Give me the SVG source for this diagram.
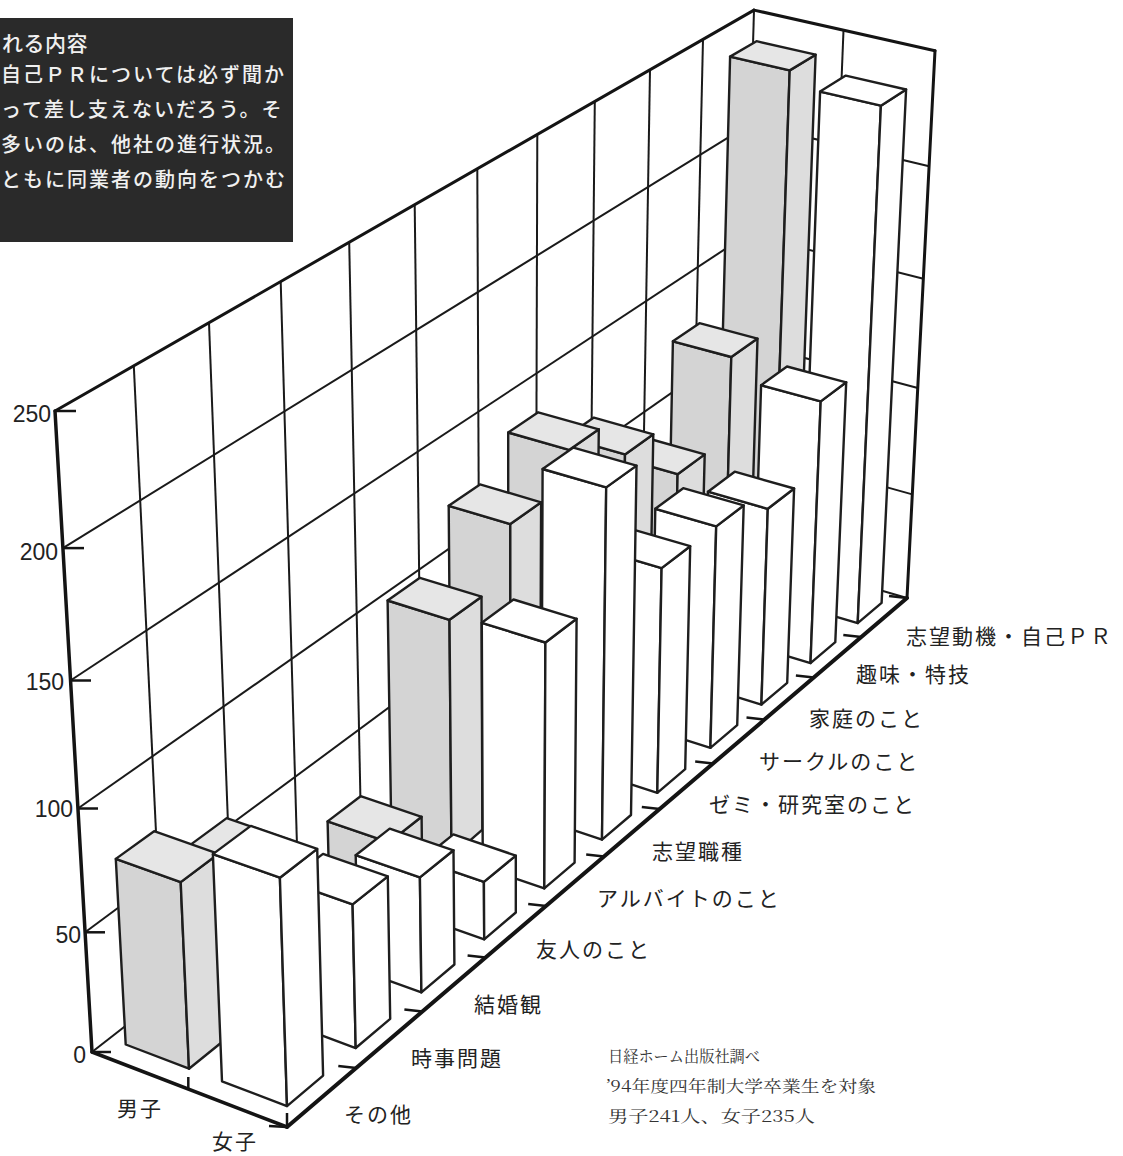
<svg xmlns="http://www.w3.org/2000/svg" width="1123" height="1156" viewBox="0 0 1123 1156">
<defs>
<style>
.bg{fill:#fff}
.plane{fill:#fff;stroke:none}
.edge{stroke:#141414;stroke-width:3;fill:none;stroke-linecap:round}
.axis{stroke:#141414;stroke-width:4;fill:none;stroke-linecap:round}
.grid{stroke:#1a1a1a;stroke-width:2;fill:none}
.tick{stroke:#141414;stroke-width:2.5;fill:none}
.bar polygon{stroke:#1e1e1e;stroke-width:2.4;stroke-linejoin:round}
.m .l{fill:#d4d4d4}.m .r{fill:#dddddd}.m .t{fill:#e6e6e6}
.f .l,.f .r,.f .t{fill:#fff}
.num{font-family:"Liberation Sans",Arial,sans-serif;font-size:23px;fill:#222;text-anchor:end}
.cat{font-family:"Noto Sans CJK JP","Noto Sans CJK SC",sans-serif;font-size:21px;fill:#222;letter-spacing:2px}
.box{font-family:"Noto Sans CJK JP","Noto Sans CJK SC",sans-serif;font-size:20px;font-weight:500;fill:#f0f0f0}
.src{font-family:"Noto Serif CJK JP","Noto Sans CJK JP",serif;font-size:16px;fill:#333}
</style>
</defs>
<rect class="bg" x="0" y="0" width="1123" height="1156"/>

<g id="textbox">
<rect x="-10" y="18" width="303" height="224" fill="#2a2a2a"/>
<text class="box" x="2" y="50.5" style="font-size:21px;letter-spacing:0.5px">れる内容</text>
<text class="box" x="1" y="82" style="letter-spacing:2px">自己ＰＲについては必ず聞か</text>
<text class="box" x="1" y="117" style="letter-spacing:2px">って差し支えないだろう。そ</text>
<text class="box" x="1" y="152" style="letter-spacing:2px">多いのは、他社の進行状況。</text>
<text class="box" x="1" y="187" style="letter-spacing:2px">ともに同業者の動向をつかむ</text>
</g>

<g id="walls">
<polygon class="plane" points="92,1052 55,411 754,10.1 738.3,548.8"/>
<polygon class="plane" points="738.3,548.8 754,10.1 935,50.7 907,598"/>
<polygon class="plane" points="92,1052 287,1127 907,598 738.3,548.8"/>
<g class="grid">
<line x1="163.8" y1="996.1" x2="133.8" y2="365.8"/>
<line x1="232.5" y1="942.6" x2="209.0" y2="322.7"/>
<line x1="298.3" y1="891.4" x2="280.7" y2="281.6"/>
<line x1="361.3" y1="842.3" x2="349.2" y2="242.3"/>
<line x1="421.8" y1="795.3" x2="414.7" y2="204.7"/>
<line x1="479.8" y1="750.1" x2="477.3" y2="168.8"/>
<line x1="535.6" y1="706.7" x2="537.3" y2="134.4"/>
<line x1="589.2" y1="664.9" x2="594.8" y2="101.4"/>
<line x1="640.8" y1="624.8" x2="650.0" y2="69.7"/>
<line x1="690.5" y1="586.1" x2="703.0" y2="39.3"/>
<line x1="85.1" y1="932.3" x2="741.3" y2="446.7"/>
<line x1="77.9" y1="808.5" x2="744.3" y2="341.9"/>
<line x1="70.5" y1="680.5" x2="747.5" y2="234.3"/>
<line x1="62.9" y1="548.1" x2="750.7" y2="123.7"/>
<line x1="741.3" y1="446.7" x2="912.3" y2="494.4"/>
<line x1="744.3" y1="341.9" x2="917.8" y2="388.0"/>
<line x1="747.5" y1="234.3" x2="923.4" y2="278.7"/>
<line x1="750.7" y1="123.7" x2="929.1" y2="166.3"/>
<line x1="821.8" y1="573.2" x2="843.5" y2="30.2"/>
<line x1="754" y1="10.1" x2="738.3" y2="548.8"/>
<line x1="92" y1="1052" x2="738.3" y2="548.8"/>
<line x1="738.3" y1="548.8" x2="907" y2="598"/>
</g>
<g class="edge">
<line x1="55" y1="411" x2="754" y2="10.1"/>
<line x1="754" y1="10.1" x2="935" y2="50.7"/>
<line x1="935" y1="50.7" x2="907" y2="598"/>
</g>
</g>

<g id="bars">
<g id="m10" class="bar m"><polygon class="l" points="716.3,581.2 771.9,597.7 789.7,70.4 730.1,56.6"/><polygon class="r" points="771.9,597.7 796.4,578.0 815.6,54.7 789.7,70.4"/><polygon class="t" points="730.1,56.6 789.7,70.4 815.6,54.7 756.5,41.2"/></g>
<g id="f10" class="bar f"><polygon class="l" points="800.9,606.3 857.7,623.1 880.9,105.7 820.1,91.6"/><polygon class="r" points="857.7,623.1 881.6,602.9 906.1,89.5 880.9,105.7"/><polygon class="t" points="820.1,91.6 880.9,105.7 906.1,89.5 845.8,75.6"/></g>
<g id="m9" class="bar m"><polygon class="l" points="667.3,619.7 723.6,636.8 731.3,357.0 672.9,341.3"/><polygon class="r" points="723.6,636.8 749.0,616.3 757.5,338.6 731.3,357.0"/><polygon class="t" points="672.9,341.3 731.3,357.0 757.5,338.6 699.5,323.2"/></g>
<g id="f9" class="bar f"><polygon class="l" points="752.9,645.7 810.5,663.1 820.7,401.4 761.1,385.2"/><polygon class="r" points="810.5,663.1 835.3,642.1 846.2,382.3 820.7,401.4"/><polygon class="t" points="761.1,385.2 820.7,401.4 846.2,382.3 787.0,366.5"/></g>
<g id="m8" class="bar m"><polygon class="l" points="616.3,659.7 673.4,677.4 677.6,474.2 619.1,457.5"/><polygon class="r" points="673.4,677.4 699.7,656.1 704.7,454.4 677.6,474.2"/><polygon class="t" points="619.1,457.5 677.6,474.2 704.7,454.4 646.5,438.0"/></g>
<g id="f8" class="bar f"><polygon class="l" points="703.1,686.6 761.4,704.6 767.8,508.8 708.0,491.7"/><polygon class="r" points="761.4,704.6 787.2,682.8 794.1,488.5 767.8,508.8"/><polygon class="t" points="708.0,491.7 767.8,508.8 794.1,488.5 734.7,471.7"/></g>
<g id="m7" class="bar m"><polygon class="l" points="563.4,701.2 621.2,719.5 625.0,454.4 565.1,437.4"/><polygon class="r" points="621.2,719.5 648.6,697.4 653.3,434.3 625.0,454.4"/><polygon class="t" points="565.1,437.4 625.0,454.4 653.3,434.3 593.9,417.6"/></g>
<g id="f7" class="bar f"><polygon class="l" points="651.3,729.1 710.4,747.8 716.2,526.4 655.3,508.8"/><polygon class="r" points="710.4,747.8 737.2,725.2 743.7,505.4 716.2,526.4"/><polygon class="t" points="655.3,508.8 716.2,526.4 743.7,505.4 683.2,488.2"/></g>
<g id="m6" class="bar m"><polygon class="l" points="508.3,744.4 566.9,763.4 569.1,449.9 508.2,432.5"/><polygon class="r" points="566.9,763.4 595.4,740.4 598.8,429.3 569.1,449.9"/><polygon class="t" points="508.2,432.5 569.1,449.9 598.8,429.3 538.2,412.3"/></g>
<g id="f6" class="bar f"><polygon class="l" points="597.4,773.3 657.3,792.8 661.6,568.1 599.9,549.8"/><polygon class="r" points="657.3,792.8 685.2,769.2 690.2,546.2 661.6,568.1"/><polygon class="t" points="599.9,549.8 661.6,568.1 690.2,546.2 629.0,528.3"/></g>
<g id="m5" class="bar m"><polygon class="l" points="451.0,789.3 510.4,809.1 510.3,524.1 448.7,505.8"/><polygon class="r" points="510.4,809.1 540.0,785.1 541.1,502.3 510.3,524.1"/><polygon class="t" points="448.7,505.8 510.3,524.1 541.1,502.3 480.0,484.4"/></g>
<g id="f5" class="bar f"><polygon class="l" points="541.3,819.4 602.0,839.6 606.2,487.4 542.6,469.0"/><polygon class="r" points="602.0,839.6 631.0,815.0 636.5,465.6 606.2,487.4"/><polygon class="t" points="542.6,469.0 606.2,487.4 636.5,465.6 573.4,447.6"/></g>
<g id="m4" class="bar m"><polygon class="l" points="391.4,836.1 451.5,856.6 449.5,619.8 387.6,600.5"/><polygon class="r" points="451.5,856.6 482.4,829.7 481.5,596.7 449.5,619.8"/><polygon class="t" points="387.6,600.5 449.5,619.8 481.5,596.7 419.9,577.8"/></g>
<g id="f4" class="bar f"><polygon class="l" points="482.8,867.3 544.3,888.4 545.4,642.5 481.8,622.8"/><polygon class="r" points="544.3,888.4 574.6,862.7 576.6,618.8 545.4,642.5"/><polygon class="t" points="481.8,622.8 545.4,642.5 576.6,618.8 513.5,599.5"/></g>
<g id="m3" class="bar m"><polygon class="l" points="329.2,884.9 390.1,906.3 389.0,842.4 327.6,821.4"/><polygon class="r" points="390.1,906.3 422.3,880.2 421.6,816.8 389.0,842.4"/><polygon class="t" points="327.6,821.4 389.0,842.4 421.6,816.8 360.6,796.2"/></g>
<g id="f3" class="bar f"><polygon class="l" points="421.8,917.4 484.2,939.3 483.9,881.9 421.1,860.3"/><polygon class="r" points="484.2,939.3 515.8,912.5 515.8,855.6 483.9,881.9"/><polygon class="t" points="421.1,860.3 483.9,881.9 515.8,855.6 453.4,834.4"/></g>
<g id="m2" class="bar m"><polygon class="l" points="264.3,935.8 326.0,958.0 324.5,900.2 262.4,878.3"/><polygon class="r" points="326.0,958.0 359.6,930.8 358.5,873.5 324.5,900.2"/><polygon class="t" points="262.4,878.3 324.5,900.2 358.5,873.5 296.7,852.0"/></g>
<g id="f2" class="bar f"><polygon class="l" points="358.1,969.6 421.4,992.4 419.9,877.4 355.7,855.2"/><polygon class="r" points="421.4,992.4 454.4,964.5 453.5,850.3 419.9,877.4"/><polygon class="t" points="355.7,855.2 419.9,877.4 453.5,850.3 389.7,828.6"/></g>
<g id="m1" class="bar m"><polygon class="l" points="196.5,989.0 259.0,1012.1 254.0,867.3 190.3,844.9"/><polygon class="r" points="259.0,1012.1 294.2,983.7 289.9,840.0 254.0,867.3"/><polygon class="t" points="190.3,844.9 254.0,867.3 289.9,840.0 226.7,818.1"/></g>
<g id="f1" class="bar f"><polygon class="l" points="291.6,1024.2 355.7,1048.0 352.6,904.4 287.3,881.4"/><polygon class="r" points="355.7,1048.0 390.2,1018.8 387.8,876.4 352.6,904.4"/><polygon class="t" points="287.3,881.4 352.6,904.4 387.8,876.4 323.0,853.9"/></g>
<g id="m0" class="bar m"><polygon class="l" points="125.7,1044.5 189.0,1068.7 180.7,882.1 115.8,858.9"/><polygon class="r" points="189.0,1068.7 225.8,1039.0 218.5,853.8 180.7,882.1"/><polygon class="t" points="115.8,858.9 180.7,882.1 218.5,853.8 154.1,831.2"/></g>
<g id="f0" class="bar f"><polygon class="l" points="222.0,1081.3 287.0,1106.1 279.9,877.7 212.9,854.1"/><polygon class="r" points="287.0,1106.1 323.1,1075.6 317.2,848.9 279.9,877.7"/><polygon class="t" points="212.9,854.1 279.9,877.7 317.2,848.9 250.8,825.9"/></g>
</g>

<g id="axes">
<line class="edge" x1="92" y1="1052" x2="55" y2="411" style="stroke-width:3.5"/>
<line class="edge" x1="92" y1="1052" x2="287" y2="1127" style="stroke-width:3.5"/>
<line class="axis" x1="287" y1="1127" x2="907" y2="598"/>
<g class="tick">
<line x1="92" y1="1052" x2="111" y2="1052"/>
<line x1="85.1" y1="932.3" x2="105" y2="932.3"/>
<line x1="77.9" y1="808.5" x2="98" y2="808.5"/>
<line x1="70.5" y1="680.5" x2="91" y2="680.5"/>
<line x1="62.9" y1="548.1" x2="84" y2="548.1"/>
<line x1="55" y1="411" x2="76" y2="411"/>
<line x1="188.3" y1="1089" x2="188.3" y2="1077"/>
<line x1="287" y1="1127" x2="287" y2="1113"/>
<line x1="287" y1="1127" x2="269" y2="1126"/>
<line x1="356.3" y1="1068" x2="338.3" y2="1066"/>
<line x1="422.4" y1="1011.5" x2="404.4" y2="1009.5"/>
<line x1="485.6" y1="957.6" x2="467.6" y2="955.6"/>
<line x1="546.2" y1="905.9" x2="528.2" y2="903.9"/>
<line x1="604.2" y1="856.4" x2="586.2" y2="854.4"/>
<line x1="659.8" y1="808.9" x2="641.8" y2="806.9"/>
<line x1="713.2" y1="763.4" x2="695.2" y2="761.4"/>
<line x1="764.5" y1="719.6" x2="746.5" y2="717.6"/>
<line x1="813.9" y1="677.5" x2="795.9" y2="675.5"/>
<line x1="861.3" y1="637" x2="843.3" y2="635"/>
<line x1="907" y1="598" x2="889" y2="596"/>
</g>
</g>

<g id="value-labels">
<text class="num" x="51" y="421.5">250</text>
<text class="num" x="58" y="559.5">200</text>
<text class="num" x="64" y="689.5">150</text>
<text class="num" x="73" y="816.5">100</text>
<text class="num" x="81" y="943">50</text>
<text class="num" x="86" y="1062.5">0</text>
</g>

<g id="category-labels">
<text class="cat" x="344" y="1121.5">その他</text>
<text class="cat" x="411" y="1065.5">時事問題</text>
<text class="cat" x="474" y="1011.5">結婚観</text>
<text class="cat" x="536" y="956.5">友人のこと</text>
<text class="cat" x="597" y="905.5">アルバイトのこと</text>
<text class="cat" x="652" y="858.5">志望職種</text>
<text class="cat" x="709" y="811.5">ゼミ・研究室のこと</text>
<text class="cat" x="759" y="768.5">サークルのこと</text>
<text class="cat" x="809" y="725.5">家庭のこと</text>
<text class="cat" x="856" y="681.5">趣味・特技</text>
<text class="cat" x="906" y="643.5">志望動機・自己ＰＲ</text>
</g>

<g id="series-labels">
<text class="cat" x="117" y="1115.5">男子</text>
<text class="cat" x="212" y="1149">女子</text>
</g>

<g id="source">
<text class="src" x="608" y="1062" textLength="152" lengthAdjust="spacingAndGlyphs">日経ホーム出版社調べ</text>
<text class="src" x="606" y="1092" textLength="270" lengthAdjust="spacingAndGlyphs">’94年度四年制大学卒業生を対象</text>
<text class="src" x="608" y="1122" textLength="207" lengthAdjust="spacingAndGlyphs">男子241人、女子235人</text>
</g>
</svg>
